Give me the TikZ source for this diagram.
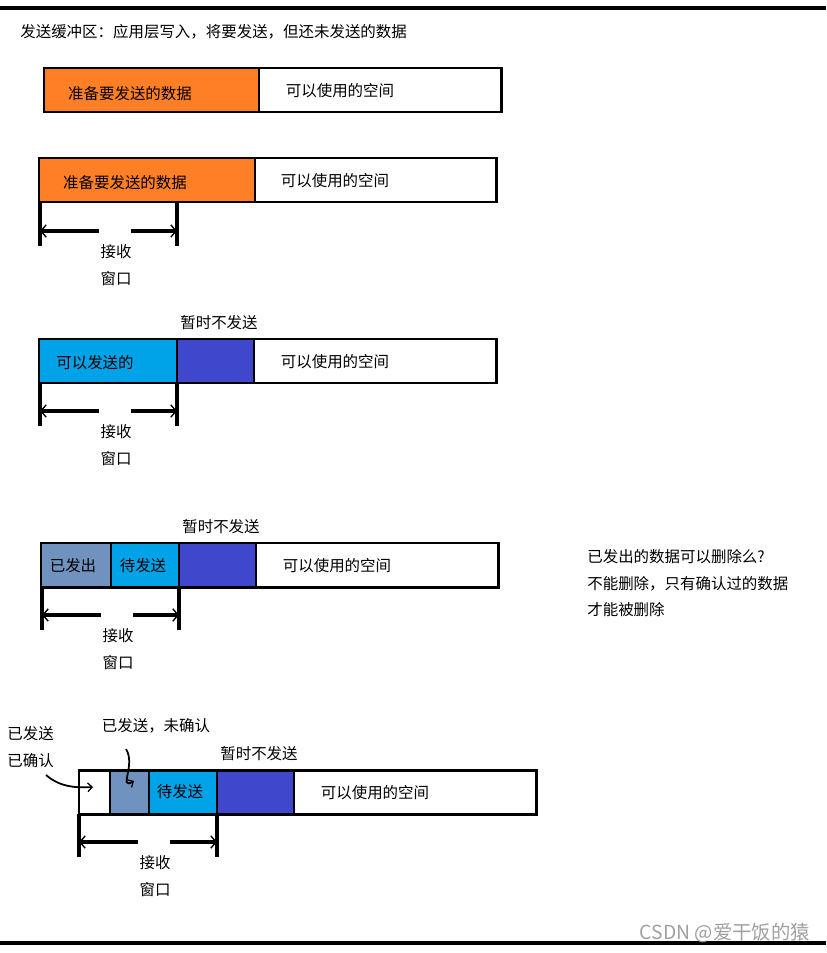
\documentclass[tikz,border=0pt]{standalone}
\usepackage{fontspec}
\setmainfont{Noto Sans CJK SC}
\usetikzlibrary{arrows.meta}

\definecolor{waitorange}{HTML}{FF7F27}
\definecolor{sendcyan}{HTML}{00A2E8}
\definecolor{holdblue}{HTML}{3F48CC}
\definecolor{sentgrey}{HTML}{7092BE}

% one cell of a buffer bar: x from, x to, top y, fill
\newcommand{\SBseg}[4]{\filldraw[fill=#4,draw=black,line width=1.7pt] (#1,#3) rectangle (#2,#3+44);}
% receive window under a bar: left x, right x, top y, name
\newcommand{\RWin}[4]{%
  \coordinate (#4a) at (#1,#3); \coordinate (#4b) at (#2,#3);
  \coordinate (#4l) at (#1,#3+28); \coordinate (#4r) at (#2,#3+28);
  \coordinate (#4p) at (#1+59,#3+28); \coordinate (#4q) at (#1+91,#3+28);
  \draw[winline] (#4a) -- ++(0,43); \draw[winline] (#4b) -- ++(0,43);
  \draw[winarrow] (#4p) -- (#4l); \draw[winarrow] (#4q) -- (#4r);
  \node (#4t) at (#1+76,#3+49) {接收};
  \node (#4u) at (#1+76,#3+76) {窗口};
}

\begin{document}
\begin{tikzpicture}[x=0.02cm,y=-0.02cm,
    every node/.style={inner sep=0pt,font=\fontsize{8.8}{11}\selectfont},
    winline/.style={line width=1.8pt},
    winarrow/.style={line width=1.8pt,-{Straight Barb[length=3pt,width=7pt,line width=0.8pt]}},
    hint/.style={line width=1pt,-{Straight Barb[length=2.5pt,width=5pt,line width=0.7pt]}}]
  \useasboundingbox (0,0) rectangle (826,953);
  \draw[line width=1.8pt] (0,8) -- (826,8);
  \draw[line width=1.8pt] (0,943) -- (826,943);
  \node[anchor=west] (title) at (20,32) {发送缓冲区：应用层写入，将要发送，但还未发送的数据};

  % bar 1
  \SBseg{44}{259}{68}{waitorange}\SBseg{259}{501}{68}{white}
  \node (b1a) at (130,94) {准备要发送的数据};
  \node (b1b) at (340,91) {可以使用的空间};

  % bar 2
  \SBseg{39}{255}{158}{waitorange}\SBseg{255}{496}{158}{white}
  \node (b2a) at (125,183) {准备要发送的数据};
  \node (b2b) at (335,181) {可以使用的空间};
  \RWin{40}{177}{203}{w2}

  % bar 3
  \SBseg{39}{177}{339}{sendcyan}\SBseg{177}{254}{339}{holdblue}\SBseg{254}{496}{339}{white}
  \node (b3h) at (219,323) {暂时不发送};
  \node (b3a) at (95,363) {可以发送的};
  \node (b3b) at (335,362) {可以使用的空间};
  \RWin{40}{177}{383}{w3}

  % bar 4
  \SBseg{41}{111}{543}{sentgrey}\SBseg{111}{179}{543}{sendcyan}
  \SBseg{179}{256}{543}{holdblue}\SBseg{256}{498}{543}{white}
  \node (b4h) at (221,527) {暂时不发送};
  \node (b4a) at (73,566) {已发出};
  \node (b4c) at (143,566) {待发送};
  \node (b4b) at (337,566) {可以使用的空间};
  \RWin{42}{179}{587}{w4}
  \node[anchor=west] (q1) at (587,557) {已发出的数据可以删除么?};
  \node[anchor=west] (q2) at (587,584) {不能删除，只有确认过的数据};
  \node[anchor=west] (q3) at (587,610) {才能被删除};

  % bar 5
  \SBseg{79}{110}{770}{white}\SBseg{110}{149}{770}{sentgrey}\SBseg{149}{217}{770}{sendcyan}
  \SBseg{217}{294}{770}{holdblue}\SBseg{294}{536}{770}{white}
  \node (b5h) at (259,754) {暂时不发送};
  \node (b5c) at (180,792) {待发送};
  \node (b5b) at (375,793) {可以使用的空间};
  \node (b5u) at (156,726) {已发送，未确认};
  \node[anchor=west] (b5s) at (7,734) {已发送};
  \node[anchor=west] (b5k) at (7,761) {已确认};
  \RWin{79}{217}{814}{w5}
  \coordinate (ackfrom) at (46,775);
  \coordinate (ackend) at (93,787);
  \coordinate (unackfrom) at (126,749);
  \coordinate (unackend) at (134,781);
  \draw[hint] (ackfrom) .. controls (60,787) and (75,788) .. (ackend);
  \draw[hint] (unackfrom) .. controls (136,765) and (118,790) .. (unackend);

  \node[anchor=east,text=gray!75,font=\fontsize{11}{13}\selectfont] (mark) at (810,933) {CSDN @爱干饭的猿};
\end{tikzpicture}
\end{document}
